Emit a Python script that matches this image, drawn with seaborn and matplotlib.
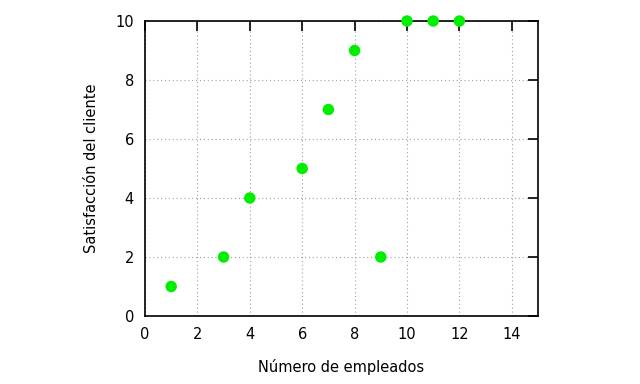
import numpy as np
import matplotlib
matplotlib.use("Agg")
import matplotlib.pyplot as plt
import seaborn as sns
import pandas as pd

# data
empleados = [1, 3, 4, 6, 7, 8, 9, 10, 11, 12]
satisfaccion = [1, 2, 4, 5, 7, 9, 2, 10, 10, 10]
x_ticks = [0, 2, 4, 6, 8, 10, 12, 14]
y_ticks = [0, 2, 4, 6, 8, 10]

sns.set_style("white")
plt.rcParams['font.family'] = ['DejaVu Sans']
plt.rcParams['text.color'] = 'black'
plt.rcParams['axes.labelcolor'] = 'black'

df = pd.DataFrame({'x': empleados, 'y': satisfaccion})

fig = plt.figure(figsize=(6.4, 3.84), dpi=100)
ax = fig.add_axes([145/640, 1-316/384, (538-145)/640, (316-21)/384])

sns.scatterplot(data=df, x='x', y='y', ax=ax, color='#00ee00', s=68,
                edgecolor='none', clip_on=False, zorder=5)

ax.set_xlim(0, 15)
ax.set_ylim(0, 10)
ax.set_xticks(x_ticks)
ax.set_yticks(y_ticks)
ax.grid(True, color='#a0a0a0', linestyle=(0, (1, 2.5)), linewidth=0.8)
ax.set_axisbelow(True)
ax.tick_params(direction='in', length=7, width=1.2, top=True, right=True,
               labelsize=10.5, pad=8, colors='black')
ax.tick_params(axis='x', top=True, labeltop=False)
ax.tick_params(axis='y', right=True, labelright=False)
for s in ax.spines.values():
    s.set_visible(True)
    s.set_color('black')
    s.set_linewidth(1.2)

ax.set_xlabel('Número de empleados', fontsize=10.5, labelpad=12)
ax.set_ylabel('Satisfacción del cliente', fontsize=10.5, labelpad=12)

fig.savefig('out.png', dpi=100)
